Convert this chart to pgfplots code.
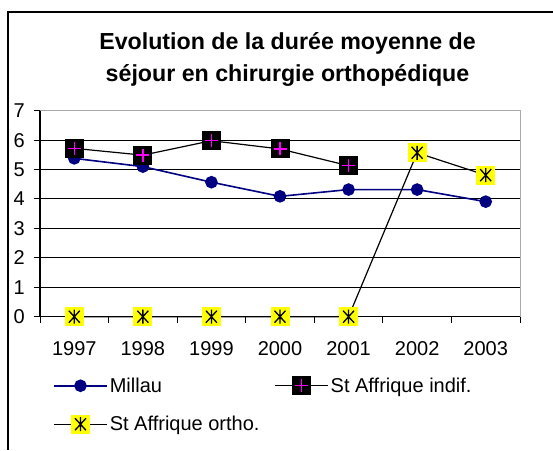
\documentclass[border=0pt]{standalone}
\usepackage{fontspec}
\setmainfont{Liberation Sans}
\usepackage{pgfplots}
\pgfplotsset{compat=1.18}
\definecolor{navy}{HTML}{000080}
\definecolor{mag}{HTML}{FF00FF}
\definecolor{yel}{HTML}{FFFF00}
\definecolor{bordergray}{HTML}{A8A8A8}

\pgfdeclareplotmark{sqplus}{%
  \pgfpathrectangle{\pgfpoint{-9.5pt}{-9.5pt}}{\pgfpoint{19pt}{19pt}}%
  \pgfsetfillcolor{black}\pgfusepath{fill}%
  \pgfsetstrokecolor{mag}\pgfsetlinewidth{1.3pt}%
  \pgfpathmoveto{\pgfpoint{-6.5pt}{0pt}}\pgfpathlineto{\pgfpoint{6.5pt}{0pt}}%
  \pgfpathmoveto{\pgfpoint{0pt}{-6.5pt}}\pgfpathlineto{\pgfpoint{0pt}{6.5pt}}%
  \pgfusepath{stroke}}
\pgfdeclareplotmark{sqstar}{%
  \pgfpathrectangle{\pgfpoint{-9.5pt}{-9.5pt}}{\pgfpoint{19pt}{19pt}}%
  \pgfsetfillcolor{yel}\pgfusepath{fill}%
  \pgfsetstrokecolor{black}\pgfsetlinewidth{1.3pt}%
  \pgfpathmoveto{\pgfpoint{-5.5pt}{-6pt}}\pgfpathlineto{\pgfpoint{5.5pt}{6pt}}%
  \pgfpathmoveto{\pgfpoint{-5.5pt}{6pt}}\pgfpathlineto{\pgfpoint{5.5pt}{-6pt}}%
  \pgfpathmoveto{\pgfpoint{0pt}{-7pt}}\pgfpathlineto{\pgfpoint{0pt}{7pt}}%
  \pgfusepath{stroke}}

\begin{document}
\begin{tikzpicture}
\path[use as bounding box] (0pt,0pt) rectangle (553pt,450pt);
\draw[black, line width=1.2pt] (553pt,438pt) -- (8pt,438pt) -- (8pt,0pt);
\node[anchor=base, font=\fontsize{23.2}{27}\selectfont\bfseries] at (287.5pt,450pt-49.3pt) {Evolution de la durée moyenne de};
\node[anchor=base, font=\fontsize{23.2}{27}\selectfont\bfseries] at (287.5pt,450pt-82pt) {séjour en chirurgie orthopédique};
\begin{axis}[
  at={(40pt,133.3pt)}, anchor=south west,
  scale only axis, width=480pt, height=206pt,
  xmin=-0.5, xmax=6.5, ymin=0, ymax=7,
  clip=false,
  /pgf/number format/assume math mode=true,
  axis line style={bordergray, line width=1pt},
  xtick={-0.5,0.5,1.5,2.5,3.5,4.5,5.5,6.5},
  xticklabels={1997,1998,1999,2000,2001,2002,2003,{}},
  xticklabel style={inner sep=0pt, anchor=north, xshift=34.29pt, yshift=-19pt},
  ytick={0,1,2,3,4,5,6},
  extra y ticks={7}, extra y tick style={grid=none},
  yticklabel style={inner sep=0pt, anchor=east, xshift=-9pt},
  xtick pos=left, ytick pos=left,
  tick align=outside, major tick length=6pt,
  tick style={black, line width=1pt},
  ymajorgrids, grid style={black, line width=1pt},
  ticklabel style={font=\fontsize{20}{24}\selectfont},
  legend columns=2, legend cell align=left,
  legend style={draw=none, fill=none, at={(axis description cs:0.0208,-0.276)}, anchor=north west,
    font=\fontsize{20}{24}\selectfont, row sep=18.5pt,
    /tikz/every even column/.append style={column sep=13pt}},
  legend image code/.code={\draw[mark repeat=2,mark phase=2,#1] plot coordinates {(0pt,0pt) (26.5pt,0pt) (53pt,0pt)};},
]
\draw[black, line width=1.2pt] (rel axis cs:0,1) -- (rel axis cs:0,0) -- (rel axis cs:1,0);
\addplot[navy, line width=1.6pt, mark=*, mark size=5.5pt, mark options={fill=navy, draw=navy}]
  coordinates {(0,5.38) (1,5.10) (2,4.57) (3,4.09) (4,4.32) (5,4.32) (6,3.91)};
\addlegendentry{Millau}
\addplot[black, line width=1.2pt, mark=sqplus]
  coordinates {(0,5.72) (1,5.49) (2,5.98) (3,5.70) (4,5.13)};
\addlegendentry{St Affrique indif.}
\addplot[black, line width=1.2pt, mark=sqstar]
  coordinates {(0,0) (1,0) (2,0) (3,0) (4,0) (5,5.57) (6,4.81)};
\addlegendentry{St Affrique ortho.}
\end{axis}
\end{tikzpicture}
\end{document}
